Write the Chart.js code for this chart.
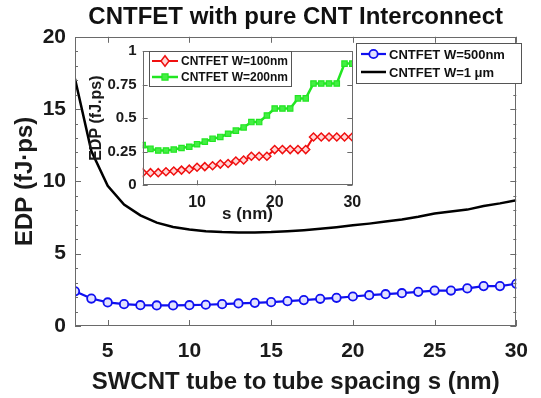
<!DOCTYPE html>
<html>
<head>
<meta charset="utf-8">
<script src="https://cdn.jsdelivr.net/npm/chart.js@4.4.0/dist/chart.umd.min.js"></script>
<style>
html, body { margin: 0; padding: 0; background: #fff; }
#wrap { position: relative; width: 541px; height: 398px; }
#main { position: absolute; left: 0; top: 0; }
#inset { position: absolute; left: 80px; top: 36px; }
</style>
</head>
<body>
<div id="wrap">
<canvas id="main" width="541" height="398"></canvas>
<canvas id="inset" width="290" height="190"></canvas>
</div>
<script>
// tube to tube spacing s (nm)
var spacing = [3,4,5,6,7,8,9,10,11,12,13,14,15,16,17,18,19,20,21,22,23,24,25,26,27,28,29,30];

// main plot (fJ.ps)
var edp_500nm = [2.40,1.90,1.63,1.51,1.44,1.42,1.42,1.44,1.47,1.51,1.56,1.60,1.65,1.72,1.79,1.88,1.95,2.04,2.13,2.20,2.27,2.36,2.45,2.45,2.60,2.76,2.76,2.92];
var edp_1um = [17.1,12.1,9.7,8.4,7.65,7.15,6.85,6.68,6.56,6.50,6.47,6.47,6.50,6.56,6.63,6.72,6.83,6.96,7.08,7.22,7.37,7.55,7.78,7.92,8.05,8.30,8.48,8.70];

// inset plot (fJ.ps)
var edp_100nm = [0.094,0.094,0.094,0.101,0.106,0.113,0.120,0.134,0.139,0.146,0.158,0.162,0.181,0.188,0.216,0.216,0.216,0.266,0.266,0.266,0.266,0.266,0.360,0.360,0.360,0.360,0.360,0.360];
var edp_200nm = [0.299,0.271,0.259,0.259,0.266,0.278,0.287,0.306,0.325,0.346,0.360,0.384,0.407,0.431,0.471,0.471,0.520,0.572,0.572,0.572,0.647,0.647,0.758,0.758,0.758,0.758,0.906,0.906];

var mainXTicks = [5,10,15,20,25,30];
var mainYTicks = [0,5,10,15,20];
var insetXTicks = [10,20,30];
var insetYTicks = [0,0.25,0.5,0.75,1];

var FONT = "'Liberation Sans', Arial, Helvetica, sans-serif";

function toPoints(xs, ys) {
	var pts = [];
	for (var i = 0; i < xs.length; i++) pts.push({x: xs[i], y: ys[i]});
	return pts;
}

function minorList(from, to, step, majors) {
	var arr = [];
	for (var v = from; v <= to + 1e-9; v += step) {
		var isMajor = false;
		for (var j = 0; j < majors.length; j++) if (Math.abs(majors[j] - v) < 1e-6) isMajor = true;
		if (!isMajor) arr.push(v);
	}
	return arr;
}

// matlab style box with ticks pointing inwards
var boxPlugin = {
	id: 'box',
	beforeDatasetsDraw: function(chart, args, opts) {
		var a = chart.chartArea, ctx = chart.ctx;
		ctx.save();
		ctx.fillStyle = '#fff';
		ctx.fillRect(a.left, a.top, a.right - a.left, a.bottom - a.top);
		ctx.restore();
	},
	afterDatasetsDraw: function(chart, args, opts) {
		var a = chart.chartArea, ctx = chart.ctx;
		var xs = chart.scales.x, ys = chart.scales.y;
		ctx.save();
		ctx.strokeStyle = opts.color;
		ctx.lineWidth = 1;
		ctx.beginPath();
		function vt(v, len) {
			var px = Math.round(xs.getPixelForValue(v)) + 0.5;
			ctx.moveTo(px, a.bottom); ctx.lineTo(px, a.bottom - len);
			ctx.moveTo(px, a.top); ctx.lineTo(px, a.top + len);
		}
		function ht(v, len) {
			var py = Math.round(ys.getPixelForValue(v)) + 0.5;
			ctx.moveTo(a.left, py); ctx.lineTo(a.left + len, py);
			ctx.moveTo(a.right, py); ctx.lineTo(a.right - len, py);
		}
		opts.xMajor.forEach(function(v) { vt(v, opts.major); });
		opts.yMajor.forEach(function(v) { ht(v, opts.major); });
		opts.xMinor.forEach(function(v) { vt(v, opts.minor); });
		opts.yMinor.forEach(function(v) { ht(v, opts.minor); });
		ctx.stroke();
		ctx.strokeRect(Math.round(a.left) + 0.5, Math.round(a.top) + 0.5, Math.round(a.right - a.left) - 1, Math.round(a.bottom - a.top) - 1);
		ctx.restore();
	}
};

// boxed legend drawn inside the plot
var legendPlugin = {
	id: 'boxLegend',
	afterDraw: function(chart, args, opts) {
		var ctx = chart.ctx;
		ctx.save();
		ctx.fillStyle = '#fff';
		ctx.fillRect(opts.x, opts.y, opts.w, opts.h);
		ctx.strokeStyle = '#555';
		ctx.lineWidth = 1;
		ctx.strokeRect(opts.x + 0.5, opts.y + 0.5, opts.w, opts.h);
		ctx.font = 'bold ' + opts.fontSize + 'px ' + FONT;
		ctx.textBaseline = 'middle';
		chart.data.datasets.forEach(function(ds, i) {
			var cy = opts.y + opts.firstRow + i * opts.rowH;
			var x0 = opts.x + opts.lineStart, x1 = x0 + opts.lineLen;
			ctx.strokeStyle = ds.borderColor;
			ctx.lineWidth = ds.borderWidth;
			ctx.beginPath();
			ctx.moveTo(x0, cy); ctx.lineTo(x1, cy);
			ctx.stroke();
			if (ds.pointRadius > 0) {
				ctx.fillStyle = ds.pointBackgroundColor;
				ctx.strokeStyle = ds.pointBorderColor;
				ctx.lineWidth = ds.pointBorderWidth;
				ctx.beginPath();
				var r = ds.pointRadius, mx = (x0 + x1) / 2;
				if (ds.pointStyle === 'circle') {
					ctx.arc(mx, cy, r, 0, Math.PI * 2);
				} else if (ds.pointStyle === 'rectRot') {
					ctx.moveTo(mx, cy - r * 1.3); ctx.lineTo(mx + r, cy); ctx.lineTo(mx, cy + r * 1.3); ctx.lineTo(mx - r, cy); ctx.closePath();
				} else {
					ctx.rect(mx - r * 0.8, cy - r * 0.8, r * 1.6, r * 1.6);
				}
				ctx.fill();
				ctx.stroke();
			}
			ctx.fillStyle = '#111';
			ctx.fillText(ds.label, x1 + opts.textGap, cy + 1);
		});
		ctx.restore();
	}
};

var mainChart = new Chart(document.getElementById('main'), {
	type: 'line',
	data: {
		datasets: [
			{
				label: 'CNTFET W=500nm',
				data: toPoints(spacing, edp_500nm),
				borderColor: '#1010f0',
				borderWidth: 2.2,
				pointStyle: 'circle',
				pointRadius: 4.2,
				pointBorderWidth: 1.8,
				pointBorderColor: '#1010f0',
				pointBackgroundColor: 'rgba(225,225,255,1)',
				tension: 0
			},
			{
				label: 'CNTFET W=1 \u03bcm',
				data: toPoints(spacing, edp_1um),
				borderColor: '#000',
				borderWidth: 2.5,
				pointRadius: 0,
				tension: 0
			}
		]
	},
	options: {
		responsive: false,
		animation: false,
		events: [],
		layout: { padding: { left: 0, right: 18, top: 0, bottom: 0 } },
		plugins: {
			legend: { display: false },
			tooltip: { enabled: false },
			title: {
				display: true,
				fullSize: false,
				text: 'CNTFET with pure CNT Interconnect',
				color: '#111',
				font: { family: FONT, size: 24, weight: 'bold', lineHeight: 1.2 },
				padding: { top: 3, bottom: 5 }
			},
			box: {
				color: '#6a6a6a', major: 6, minor: 3,
				xMajor: mainXTicks, yMajor: mainYTicks,
				xMinor: [], yMinor: minorList(0, 20, 1, mainYTicks)
			},
			boxLegend: {
				x: 356, y: 43, w: 165, h: 40, firstRow: 11, rowH: 18,
				lineStart: 5, lineLen: 25, textGap: 3, fontSize: 13
			}
		},
		scales: {
			x: {
				type: 'linear', min: 3, max: 30,
				afterBuildTicks: function(axis) { axis.ticks = mainXTicks.map(function(v) { return {value: v}; }); },
				afterFit: function(axis) { axis.height = 72; },
				grid: { display: false, drawTicks: false },
				border: { display: false },
				ticks: { color: '#1a1a1a', padding: 13, maxRotation: 0, font: { family: FONT, size: 21, weight: 'bold' } },
				title: {
					display: true, text: 'SWCNT tube to tube spacing s (nm)', color: '#1a1a1a',
					font: { family: FONT, size: 24, weight: 'bold', lineHeight: 1.2 },
					padding: { top: 0, bottom: 1 }
				}
			},
			y: {
				type: 'linear', min: 0, max: 20,
				afterBuildTicks: function(axis) { axis.ticks = mainYTicks.map(function(v) { return {value: v}; }); },
				afterFit: function(axis) { axis.width = 75; },
				grid: { display: false, drawTicks: false },
				border: { display: false },
				ticks: { color: '#1a1a1a', padding: 9, font: { family: FONT, size: 21, weight: 'bold' } },
				title: {
					display: true, text: 'EDP (fJ\u00b7ps)', color: '#1a1a1a',
					font: { family: FONT, size: 24, weight: 'bold', lineHeight: 1.2 },
					padding: { top: 11, bottom: 0 }
				}
			}
		}
	},
	plugins: [boxPlugin, legendPlugin]
});

var insetChart = new Chart(document.getElementById('inset'), {
	type: 'line',
	data: {
		datasets: [
			{
				label: 'CNTFET W=100nm',
				data: toPoints(spacing, edp_100nm),
				borderColor: '#f01010',
				borderWidth: 2,
				pointStyle: 'rectRot',
				pointRadius: 4,
				pointBorderWidth: 1.5,
				pointBorderColor: '#f01010',
				pointBackgroundColor: 'rgba(255,215,215,1)',
				tension: 0
			},
			{
				label: 'CNTFET W=200nm',
				data: toPoints(spacing, edp_200nm),
				borderColor: '#22e622',
				borderWidth: 2.5,
				pointStyle: 'rect',
				pointRadius: 3.8,
				pointBorderWidth: 1.2,
				pointBorderColor: '#22e622',
				pointBackgroundColor: '#44ee44',
				tension: 0
			}
		]
	},
	options: {
		responsive: false,
		animation: false,
		events: [],
		layout: { padding: { left: 0, right: 17.7, top: 7.3, bottom: 0 } },
		plugins: {
			legend: { display: false },
			tooltip: { enabled: false },
			title: { display: false },
			box: {
				color: '#6a6a6a', major: 5, minor: 3,
				xMajor: insetXTicks, yMajor: insetYTicks,
				xMinor: [], yMinor: []
			},
			boxLegend: {
				x: 69, y: 15, w: 142, h: 35, firstRow: 10, rowH: 16,
				lineStart: 3, lineLen: 26, textGap: 3, fontSize: 12
			}
		},
		scales: {
			x: {
				type: 'linear', min: 3, max: 30,
				afterBuildTicks: function(axis) { axis.ticks = insetXTicks.map(function(v) { return {value: v}; }); },
				afterFit: function(axis) { axis.height = 40.7; },
				grid: { display: false, drawTicks: false },
				border: { display: false },
				ticks: { color: '#1a1a1a', padding: 8, maxRotation: 0, font: { family: FONT, size: 16, weight: 'bold' } },
				title: {
					display: true, text: 's (nm)', color: '#1a1a1a',
					font: { family: FONT, size: 17, weight: 'bold', lineHeight: 1.2 },
					padding: { top: 0, bottom: 1 }
				}
			},
			y: {
				type: 'linear', min: 0, max: 1,
				afterBuildTicks: function(axis) { axis.ticks = insetYTicks.map(function(v) { return {value: v}; }); },
				afterFit: function(axis) { axis.width = 62.7; },
				grid: { display: false, drawTicks: false },
				border: { display: false },
				ticks: {
					color: '#1a1a1a', padding: 6, font: { family: FONT, size: 15, weight: 'bold' },
					callback: function(v) { return String(v); }
				},
				title: {
					display: true, text: 'EDP (fJ.ps)', color: '#1a1a1a',
					font: { family: FONT, size: 16, weight: 'bold', lineHeight: 1.2 },
					padding: { top: 7, bottom: 0 }
				}
			}
		}
	},
	plugins: [boxPlugin, legendPlugin]
});
</script>
</body>
</html>
